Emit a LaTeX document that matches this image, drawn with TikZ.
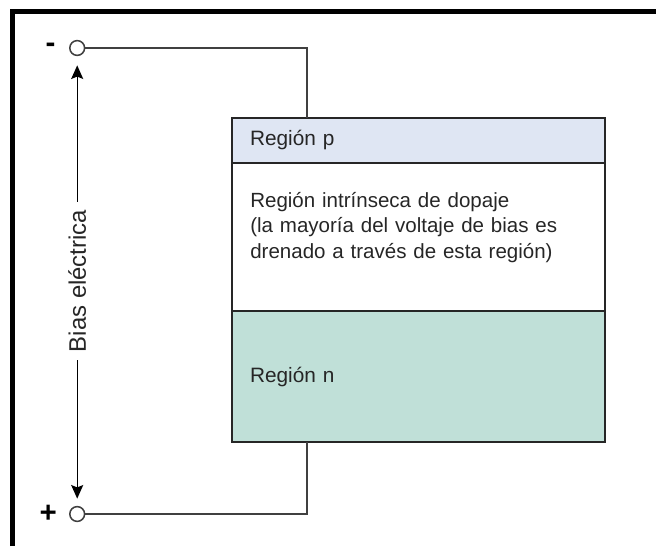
\documentclass[tikz,border=0pt]{standalone}
\usepackage{fontspec}
\setmainfont{Liberation Sans}
\usetikzlibrary{positioning,calc,arrows.meta}
\definecolor{pfill}{RGB}{223,230,243}
\definecolor{nfill}{RGB}{192,224,216}

\begin{document}
\begin{tikzpicture}[node distance=0cm,
        region/.style={draw=black!85, line width=1.6pt, rectangle, outer sep=0pt, minimum width=9.325cm, inner xsep=0.45cm, text width=8.425cm, align=left, font=\fontsize{14.8}{18}\selectfont, text=black!85},
        wire/.style={draw=black!75, line width=1.3pt},
        terminal/.style={draw=black!75, circle, line width=1.1pt, minimum size=0.37cm, inner sep=0pt, fill=white},
        sign/.style={font=\fontsize{21}{21}\selectfont\bfseries, inner sep=1pt}
    ]
        \useasboundingbox (0,0) rectangle (16.4,13.65);
        % frame
        \draw [line width=0.125cm, line join=miter] (0.3125,0) |- (16.4,13.3625);

        \node [region, fill=pfill, minimum height=1.125cm, anchor=north west] (preg) at (5.8,10.7) {Región p};
        \node [region, minimum height=3.7cm, below=0pt of preg] (ireg) {};
        \node [region, fill=nfill, minimum height=3.275cm, below=0pt of ireg] (nreg) {Región n};
        \node [below right=0.72cm and 0.45cm of ireg.north west, inner sep=0pt, text width=8.4cm, align=left, font=\fontsize{14.6}{18.2}\selectfont, text=black!85] (itext) {Región intrínseca de dopaje\\(la mayoría del voltaje de bias es\\drenado a través de esta región)};

        \node [terminal] (tneg) at (1.93,12.45) {};
        \node [terminal] (tpos) at (1.93,0.8) {};
        \node [sign, left=0.3cm of tneg] (minus) {-};
        \node [sign, left=0.26cm of tpos] (plus) {+};

        \coordinate (ptop) at ($(preg.north west)+(1.875,0)$);
        \coordinate (nbot) at ($(nreg.south west)+(1.875,0)$);
        \draw [wire] (tneg) -| (ptop);
        \draw [wire] (nbot) |- (tpos);

        \draw [{Stealth[length=0.34cm,width=0.3cm,inset=0.06cm]}-{Stealth[length=0.34cm,width=0.3cm,inset=0.06cm]}, line width=0.9pt, shorten <=0.23cm, shorten >=0.18cm] (tneg) -- node[fill=white, rotate=90, inner xsep=0.2cm, font=\fontsize{17}{20}\selectfont, text=black!85] {Bias eléctrica} (tpos);
    \end{tikzpicture}
\end{document}
